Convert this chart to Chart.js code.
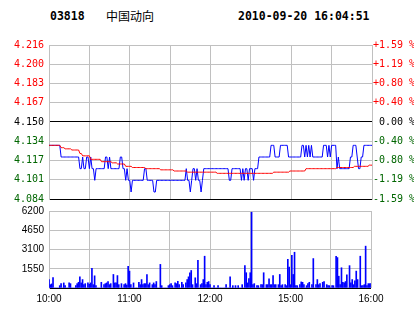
<!DOCTYPE html>
<html>
<head>
<meta charset="utf-8">
<script src="https://cdn.jsdelivr.net/npm/chart.js@4.4.0/dist/chart.umd.min.js"></script>
<style>
body { margin:0; background:#fff; width:414px; height:314px; overflow:hidden; position:relative; }
.hd { position:absolute; top:10px; font:bold 11.5px 'DejaVu Sans Mono', monospace; line-height:13px; white-space:pre; color:#000; }
#code { left:50px; }
#name { left:106px; top:9px; font:12px 'Noto Sans CJK SC', sans-serif; line-height:14px; }
#time { left:238px; }
#c1 { position:absolute; left:0; top:30px; }
#c2 { position:absolute; left:0; top:200px; }
</style>
</head>
<body>
<div class="hd" id="code">03818</div>
<div class="hd" id="name">中国动向</div>
<div class="hd" id="time">2010-09-20 16:04:51</div>
<canvas id="c1" width="414" height="180"></canvas>
<canvas id="c2" width="414" height="114"></canvas>
<script>
// previous close 4.150, axis spans +-1.59 %
const priceMin = 4.084;
const priceMax = 4.216;

// tick labels, top to bottom
const priceTicks = ['4.216', '4.200', '4.183', '4.167', '4.150', '4.134', '4.117', '4.101', '4.084'];
const pctTicks = ['+1.59 %', '+1.19 %', '+0.80 %', '+0.40 %', ' 0.00 %', '-0.40 %', '-0.80 %', '-1.19 %', '-1.59 %'];
const volTicks = [0, 1550, 3100, 4650, 6200];
const timeTicks = ['10:00', '', '11:00', '', '12:00', '', '15:00', '', '16:00'];

// one value per minute, 10:00-12:00 then 12:00-12:30/14:30-16:00
const price = [
  4.13,4.13,4.13,4.13,4.13,4.13,4.13,4.13,4.13,4.12,
  4.12,4.12,4.12,4.12,4.12,4.12,4.12,4.12,4.12,4.12,
  4.12,4.12,4.12,4.11,4.11,4.12,4.11,4.11,4.12,4.12,
  4.11,4.12,4.11,4.11,4.10,4.11,4.11,4.11,4.11,4.11,
  4.11,4.11,4.12,4.12,4.11,4.12,4.11,4.11,4.11,4.11,
  4.11,4.11,4.11,4.12,4.12,4.11,4.11,4.10,4.11,4.10,
  4.10,4.09,4.10,4.10,4.10,4.10,4.10,4.10,4.10,4.10,
  4.10,4.11,4.11,4.10,4.10,4.10,4.10,4.10,4.09,4.09,
  4.10,4.10,4.10,4.10,4.10,4.10,4.10,4.10,4.10,4.10,
  4.10,4.10,4.10,4.10,4.10,4.10,4.10,4.10,4.10,4.10,
  4.10,4.10,4.11,4.10,4.10,4.09,4.10,4.11,4.11,4.10,
  4.11,4.10,4.10,4.09,4.10,4.11,4.11,4.11,4.11,4.11,
  4.11,4.11,4.11,4.11,4.11,4.11,4.11,4.11,4.11,4.11,
  4.11,4.11,4.11,4.11,4.10,4.10,4.11,4.11,4.11,4.11,
  4.11,4.11,4.11,4.10,4.11,4.10,4.11,4.11,4.10,4.11,
  4.11,4.11,4.10,4.11,4.11,4.11,4.12,4.12,4.12,4.12,
  4.12,4.12,4.12,4.12,4.12,4.13,4.13,4.13,4.12,4.12,
  4.12,4.12,4.13,4.13,4.13,4.13,4.13,4.13,4.12,4.12,
  4.12,4.12,4.12,4.12,4.12,4.12,4.12,4.12,4.13,4.13,
  4.12,4.13,4.12,4.13,4.12,4.13,4.12,4.12,4.12,4.12,
  4.12,4.12,4.12,4.12,4.13,4.13,4.13,4.12,4.13,4.12,
  4.13,4.13,4.13,4.13,4.11,4.12,4.11,4.11,4.11,4.11,
  4.11,4.11,4.11,4.11,4.12,4.12,4.13,4.13,4.13,4.12,
  4.11,4.11,4.12,4.12,4.13,4.13,4.13,4.13,4.13,4.13,
  4.13
];

const avgPrice = [
  4.130,4.130,4.130,4.130,4.130,4.130,4.130,4.130,4.130,4.128,
  4.128,4.128,4.127,4.127,4.127,4.127,4.127,4.126,4.126,4.126,
  4.126,4.126,4.126,4.123,4.123,4.121,4.121,4.121,4.121,4.121,
  4.121,4.118,4.118,4.118,4.118,4.118,4.118,4.118,4.118,4.116,
  4.116,4.116,4.116,4.116,4.116,4.116,4.116,4.115,4.115,4.115,
  4.115,4.114,4.114,4.114,4.114,4.114,4.114,4.112,4.112,4.112,
  4.112,4.112,4.111,4.111,4.111,4.111,4.111,4.111,4.111,4.111,
  4.111,4.111,4.110,4.110,4.110,4.110,4.110,4.110,4.110,4.110,
  4.110,4.110,4.110,4.109,4.109,4.109,4.109,4.109,4.109,4.109,
  4.109,4.109,4.109,4.108,4.108,4.108,4.108,4.108,4.108,4.108,
  4.108,4.108,4.108,4.107,4.107,4.107,4.107,4.107,4.107,4.107,
  4.107,4.107,4.107,4.107,4.107,4.107,4.107,4.107,4.107,4.107,
  4.107,4.107,4.107,4.107,4.107,4.106,4.106,4.106,4.106,4.106,
  4.106,4.106,4.106,4.106,4.106,4.106,4.106,4.106,4.106,4.106,
  4.106,4.106,4.106,4.106,4.106,4.106,4.106,4.106,4.106,4.106,
  4.106,4.106,4.106,4.106,4.106,4.106,4.106,4.106,4.106,4.106,
  4.106,4.106,4.106,4.106,4.106,4.106,4.106,4.107,4.107,4.107,
  4.107,4.107,4.107,4.107,4.107,4.107,4.107,4.107,4.107,4.108,
  4.108,4.108,4.108,4.108,4.108,4.108,4.108,4.108,4.108,4.108,
  4.108,4.110,4.110,4.110,4.110,4.110,4.110,4.110,4.110,4.110,
  4.110,4.110,4.110,4.110,4.110,4.110,4.110,4.110,4.110,4.110,
  4.110,4.110,4.110,4.110,4.111,4.111,4.111,4.111,4.111,4.111,
  4.111,4.111,4.111,4.111,4.111,4.111,4.111,4.112,4.112,4.112,
  4.112,4.112,4.112,4.112,4.112,4.112,4.112,4.112,4.113,4.113,
  4.113
];

const volume = [
  680,270,330,840,0,0,0,0,190,350,
  0,410,190,0,0,410,350,0,0,0,
  190,350,460,900,410,680,270,350,0,410,
  300,410,1580,270,980,190,0,0,0,460,
  0,270,350,410,520,270,350,0,1090,410,
  410,1000,270,0,350,0,270,350,240,1740,
  1360,270,0,410,0,0,0,460,270,680,
  270,350,350,1090,270,410,0,270,410,270,
  520,0,0,1900,190,0,0,0,0,190,
  270,350,190,0,410,350,540,270,0,460,
  270,0,410,680,900,1230,1410,270,0,820,
  350,2230,0,270,350,680,2560,270,460,520,
  270,0,0,190,0,0,190,0,0,0,
  0,0,270,0,0,900,0,190,0,190,
  0,190,0,0,270,0,1800,1230,410,760,
  1230,6100,270,350,0,190,190,0,270,270,
  1230,0,270,270,740,270,270,1000,270,270,
  0,270,1090,190,270,0,270,190,2310,1690,
  270,2640,1090,2880,190,190,0,270,490,460,
  270,0,190,350,460,0,270,2370,0,270,
  680,270,350,0,460,520,0,270,190,190,
  0,190,190,0,2560,2450,950,270,1630,460,
  410,520,1060,0,1800,410,680,270,570,1360,
  680,0,2560,190,190,270,3370,190,350,350,
  350
];

const red = '#ff0000';
const green = '#006600';
const gridGrey = '#c0c0c0';
const monoFont = { family: 'DejaVu Sans Mono', size: 10 };
const sansFont = { family: 'Liberation Sans', size: 10 };

// ascending index: 0 = bottom (4.084), 4 = prev close, 8 = top
function levelColor(i) {
  if (i > 4) return red;
  if (i == 4) return '#000';
  return green;
}
function priceTickList(scale) {
  const step = (priceMax - priceMin) / 8;
  scale.ticks = [];
  for (let k = 0; k <= 8; k++) scale.ticks.push({ value: priceMin + k * step });
}
function minuteTickList(scale) {
  scale.ticks = [];
  for (let k = 0; k <= 8; k++) scale.ticks.push({ value: k * 30 });
}

const priceChart = new Chart(document.getElementById('c1'), {
  type: 'line',
  data: {
    datasets: [
      {
        data: avgPrice.map((v, i) => ({ x: i, y: v })),
        borderColor: red,
        borderWidth: 1,
        pointRadius: 0,
        tension: 0
      },
      {
        data: price.map((v, i) => ({ x: i, y: v })),
        borderColor: '#0000ff',
        borderWidth: 1,
        pointRadius: 0,
        tension: 0
      }
    ]
  },
  options: {
    responsive: false,
    animation: false,
    devicePixelRatio: 1,
    layout: { padding: { top: 15, bottom: 7, left: 0, right: 0 } },
    plugins: { legend: { display: false }, tooltip: { enabled: false } },
    scales: {
      x: {
        type: 'linear',
        min: 0,
        max: 240,
        afterBuildTicks: minuteTickList,
        afterFit: (s) => { s.height = 0; },
        grid: { color: gridGrey, drawTicks: false },
        border: { display: false },
        ticks: { display: false }
      },
      y: {
        position: 'left',
        min: priceMin,
        max: priceMax,
        afterBuildTicks: priceTickList,
        afterFit: (s) => { s.width = 49; },
        grid: {
          drawTicks: false,
          color: (ctx) => (ctx.index == 0 || ctx.index == 4) ? '#000' : gridGrey
        },
        border: { color: gridGrey },
        ticks: {
          padding: 5,
          font: monoFont,
          color: (ctx) => levelColor(ctx.index),
          callback: (v, i) => priceTicks[8 - i]
        }
      },
      y2: {
        position: 'right',
        min: priceMin,
        max: priceMax,
        afterBuildTicks: priceTickList,
        afterFit: (s) => { s.width = 42; },
        grid: { drawOnChartArea: false, drawTicks: false },
        border: { color: gridGrey },
        ticks: {
          padding: 1,
          font: monoFont,
          color: (ctx) => levelColor(ctx.index),
          callback: (v, i) => pctTicks[8 - i]
        }
      }
    }
  }
});

const volumeChart = new Chart(document.getElementById('c2'), {
  type: 'bar',
  data: {
    datasets: [{
      data: volume.map((v, i) => ({ x: i, y: v })),
      backgroundColor: '#0000ff',
      borderWidth: 0,
      barThickness: 1
    }]
  },
  options: {
    responsive: false,
    animation: false,
    devicePixelRatio: 1,
    layout: { padding: { top: 9, bottom: 9, left: 0, right: 43 } },
    plugins: { legend: { display: false }, tooltip: { enabled: false } },
    scales: {
      x: {
        type: 'linear',
        min: 0,
        max: 240,
        offset: false,
        afterBuildTicks: minuteTickList,
        afterFit: (s) => { s.height = 17; },
        grid: { color: gridGrey, drawTicks: false, offset: false },
        border: { display: false },
        ticks: {
          padding: 5,
          font: sansFont,
          color: '#000',
          maxRotation: 0,
          autoSkip: false,
          callback: (v, i) => timeTicks[i]
        }
      },
      y: {
        min: 0,
        max: 6200,
        afterBuildTicks: (s) => { s.ticks = volTicks.map(v => ({ value: v })); },
        afterFit: (s) => { s.width = 49; },
        grid: {
          drawTicks: false,
          color: (ctx) => ctx.index == 0 ? '#000' : gridGrey
        },
        border: { color: gridGrey },
        ticks: {
          padding: 5,
          font: sansFont,
          color: '#000',
          callback: (v) => v == 0 ? '' : String(v)
        }
      }
    }
  }
});
</script>
</body>
</html>
